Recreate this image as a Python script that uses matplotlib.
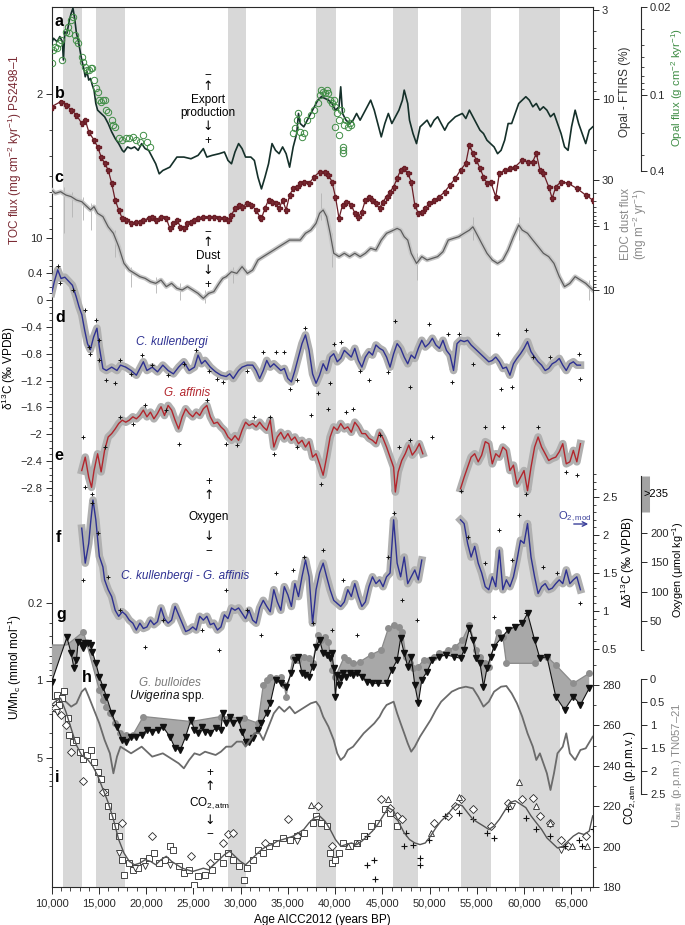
import numpy as np
import matplotlib
matplotlib.use('Agg')
import matplotlib.pyplot as plt
from matplotlib.ticker import FixedLocator, NullFormatter, FuncFormatter
from matplotlib.transforms import blended_transform_factory
from matplotlib.patches import FancyArrowPatch

plt.rcParams['font.family'] = ['Liberation Sans', 'DejaVu Sans']
plt.rcParams['mathtext.fontset'] = 'custom'
plt.rcParams['mathtext.rm'] = 'Liberation Sans'
plt.rcParams['mathtext.it'] = 'Liberation Sans:italic'
plt.rcParams['mathtext.default'] = 'regular'

# ------------------------------------------------------------------ data
band_start = [11180, 14700, 28620, 38030, 46150, 53280, 59430]
band_end = [13250, 17810, 30620, 40120, 48790, 56460, 63850]

# a: Opal - FTIRS (%)
opal_ftirs = [(10000,4.72),(10200,4.40),(10580,4.61),(10870,4.30),(11140,4.61),(11250,5.91),(11400,4.03),(11620,4.12),
 (11880,3.44),(12070,3.14),(12260,2.93),(12440,3.36),(12630,4.12),(12810,4.50),(13000,5.16),(13190,5.91),(13370,6.47),
 (13560,7.41),(13750,6.92),(13930,7.75),(14120,7.58),(14310,8.30),(14490,8.88),(14680,10.64),(14870,11.65),(15240,12.18),
 (15610,12.74),(15990,13.96),(16360,15.63),(16730,17.11),(17100,18.32),(17480,20.07),(17660,20.53),(18040,19.17),(18410,19.61),
 (18780,19.17),(19160,20.07),(19530,18.32),(19900,19.61),(20270,20.07),(20650,21.99),(21020,24.09),(21390,27.60),(21770,26.37),
 (22510,25.21),(23260,21.99),(24000,21.99),(24750,22.50),(25500,21.49),(26060,19.61),(26430,21.99),(26990,21.49),(27730,21.01),
 (28290,20.53),(28670,23.02),(29040,24.09),(29410,20.53),(29790,18.32),(30160,19.61),(30530,21.99),(31090,21.99),(31460,23.02),
 (31840,28.88),(32210,33.84),(32580,28.88),(32960,24.09),(33330,18.32),(33700,20.07),(34080,21.01),(34450,19.17),(34820,21.01),
 (35190,25.21),(35570,19.17),(35940,15.99),(36130,12.18),(36310,13.96),(36690,14.60),(37060,13.34),(37430,12.18),(37810,11.13),
 (38180,10.17),(38550,9.71),(38920,9.94),(39300,10.17),(39670,10.64),(40040,11.65),(40420,11.13),(40600,8.49),(40790,12.18),
 (41160,13.34),(41540,13.96),(41910,13.34),(42280,12.18),(42650,13.34),(43030,12.18),(43400,11.13),(43770,10.17),(44150,11.65),
 (44520,13.96),(44890,16.73),(45270,13.96),(45640,12.18),(46010,13.96),(46760,11.65),(47130,10.17),(47320,8.88),(47690,10.64),
 (47880,13.34),(48250,15.99),(48620,18.32),(49000,14.60),(49370,13.96),(49740,13.34),(50110,14.60),(50490,13.34),(50860,12.74),
 (51230,13.96),(51610,15.28),(51980,13.96),(52350,13.34),(52730,12.74),(53100,12.46),(53470,12.18),(53840,13.04),(54220,11.65),
 (54590,12.74),(54960,13.96),(55340,15.28),(55710,15.99),(56080,17.51),(56460,18.32),(56830,19.17),(57200,21.01),(57570,20.07),
 (57950,17.51),(58320,13.96),(58690,13.96),(59070,12.18),(59440,10.64),(59810,10.17),(60190,9.71),(60560,10.17),(60930,11.13),
 (61300,10.64),(61680,11.65),(62050,11.13),(62420,11.65),(62800,12.74),(63170,12.18),(63540,13.96),(63920,15.99),(64290,19.17),
 (64660,20.07),(65030,14.60),(65410,11.65),(65780,13.96),(66150,15.99),(66530,18.32),(66900,15.28),(67270,14.60)]

# a: Opal flux (g cm-2 kyr-1)
opal_flux = [(10000,0.0553),(10200,0.0439),(10390,0.0413),(10580,0.0426),(10760,0.0388),(10950,0.0366),(11140,0.0527),
 (11510,0.0314),(11700,0.0286),(11880,0.0324),(12070,0.0254),(12250,0.0238),(12440,0.0334),(12630,0.0366),(12810,0.0388),
 (13190,0.0496),(13370,0.0543),(13560,0.0595),(13750,0.0632),(13930,0.0632),(14120,0.0613),(14310,0.0613),(14490,0.0759),
 (14680,0.0884),(14870,0.0940),(15050,0.1094),(15240,0.1128),(15430,0.1094),(15610,0.1094),(15800,0.1313),(15990,0.1354),
 (16360,0.1577),(16540,0.1729),(16730,0.1782),(17100,0.2203),(17480,0.2272),(17850,0.2203),(18220,0.2203),(18600,0.2137),
 (18970,0.2272),(19340,0.2343),(19710,0.2074),(20090,0.2343),(20460,0.2566),
 (35570,0.2012),(35750,0.1837),(35940,0.1577),(36130,0.1396),(36310,0.1952),(36500,0.2137),(36690,0.2012),(37060,0.1577),
 (37430,0.1439),(37810,0.1313),(38180,0.1163),(38360,0.0999),(38550,0.0912),(38740,0.0940),(38920,0.0968),(39110,0.0912),
 (39300,0.0968),(39480,0.1094),(39670,0.1163),(39860,0.1094),(40040,0.1236),(40230,0.1396),(40420,0.1577),(40600,0.1313),
 (40790,0.2566),(40790,0.2727),(40790,0.2898),(40980,0.1729),(41160,0.1577),(41350,0.1782),(41540,0.1675),(41720,0.1729),
 (40420,0.2074),(40040,0.1782)]

# b: TOC flux (mg cm-2 kyr-1)
toc_flux = [(10030,2.30),(10950,2.18),(11510,2.26),(12070,2.39),(12630,2.53),(13190,2.78),(13560,2.67),(13930,3.05),
 (14490,3.35),(14870,3.61),(15240,4.03),(15610,4.34),(15990,4.68),(16360,5.43),(16730,6.54),(17100,7.31),(17480,8.03),
 (17850,8.18),(18410,8.49),(18970,8.34),(19340,8.34),(19710,8.18),(20270,8.03),(20650,7.88),(21020,8.18),(21580,7.88),
 (22140,8.03),(22510,8.98),(22890,8.49),(23260,8.18),(23630,8.81),(24000,8.98),(24380,8.49),(24750,8.34),(25120,8.18),
 (25500,8.03),(26060,7.88),(26620,7.88),(27170,7.88),(27730,8.03),(28290,8.03),(28670,8.18),(29040,7.74),(29410,7.18),
 (29790,6.91),(30160,7.05),(30720,6.79),(31090,6.91),(31650,7.31),(32020,7.88),(32210,8.03),(32580,7.18),(32960,6.54),
 (33330,6.66),(33700,6.79),(34080,7.18),(34450,6.54),(34820,7.31),(35190,6.19),(35570,5.74),(35940,5.64),(36310,5.43),
 (36690,5.33),(37250,5.43),(37810,5.04),(38360,4.77),(38920,4.77),(39300,4.94),(39670,5.33),(40040,6.30),(40420,8.03),
 (40790,6.91),(41160,6.66),(41720,6.91),(42090,7.59),(42470,7.88),(42840,7.45),(43210,6.54),(43590,6.30),(43960,6.54),
 (44330,6.79),(44710,7.18),(45080,6.66),(45450,6.30),(45820,5.96),(46200,5.64),(46570,5.13),(46940,4.68),(47320,4.59),
 (47690,4.85),(48060,5.33),(48440,6.91),(48810,7.59),(49180,7.45),(49550,7.18),(49930,6.79),(50490,6.54),(51050,6.30),
 (51610,5.96),(52170,5.53),(52730,5.13),(53280,4.68),(53840,4.34),(54220,3.54),(54590,3.88),(54960,4.18),(55340,4.59),
 (55710,5.04),(56080,5.43),(56460,5.33),(57010,6.30),(57390,4.85),(57950,4.68),(58510,4.59),(59070,4.51),(59810,4.18),
 (60370,4.26),(60930,4.26),(61300,3.88),(61680,4.68),(62050,4.85),(62610,5.64),(62980,6.42),(63360,5.64),(63920,5.33),
 (64660,5.43),(65590,5.74),(66530,6.19),(67270,6.54)]

# c: EDC dust flux (mg m-2 yr-1), smoothed
dust_flux = [(10000,0.274),(10390,0.309),(10950,0.291),(11510,0.328),(12070,0.348),(12630,0.393),(13190,0.417),(13560,0.470),
 (14120,0.562),(14490,0.499),(14870,0.634),(15430,0.714),(15990,1.03),(16540,1.30),(17100,2.10),(17660,3.84),(18220,4.88),
 (18780,5.50),(19340,6.19),(19900,6.58),(20460,7.41),(21020,7.87),(21580,6.98),(22140,8.87),(22700,7.87),(23260,9.42),
 (23820,10.0),(24380,8.87),(24940,10.0),(25500,11.3),(26060,13.5),(26620,11.3),(27170,10.6),(27730,7.87),(28110,6.58),
 (28480,6.19),(29040,5.18),(29600,5.50),(30160,4.32),(30720,5.50),(31280,4.88),(31840,3.40),(32400,3.01),(32960,2.67),
 (33520,2.37),(34080,2.10),(34630,1.87),(35190,1.66),(35750,1.66),(36310,1.66),(36870,1.30),(37430,1.16),(37990,0.910),
 (38360,0.634),(38740,0.562),(39110,0.714),(39480,1.30),(39860,2.67),(40420,3.01),(40980,2.67),(41540,3.01),(42090,2.67),
 (42650,3.01),(43210,2.67),(43770,2.23),(44330,2.37),(44890,1.66),(45450,1.30),(45820,1.23),(46200,1.16),(46570,1.09),
 (46940,1.16),(47320,1.47),(47690,1.66),(48060,2.67),(48620,3.84),(49180,3.01),(49740,3.40),(50300,3.20),(50860,3.01),
 (51420,2.52),(51980,1.66),(52540,1.56),(53100,1.47),(53660,1.30),(54220,1.16),(54590,1.03),(54960,1.30),(55520,1.87),
 (56080,2.67),(56640,3.40),(57200,3.84),(57760,3.40),(58320,2.37),(58880,1.47),(59440,0.966),(59810,1.16),(60370,1.30),
 (60930,1.66),(61490,2.10),(62050,2.67),(62610,3.01),(63170,3.84),(63730,6.19),(64290,8.87),(64850,7.87),(65410,6.19),
 (65970,6.98),(66530,7.87),(67270,10.0)]
# c: largest single-sample excursions of the raw dust record
dust_spike_age = [11320, 12140, 13370, 14120, 16730, 18410, 21020, 23630, 26240, 29230, 38550, 39670, 48620, 54590, 59440, 66900]
dust_spike_lo = [0.243, 0.291, 0.348, 0.443, 1.16, 4.32, 6.19, 7.87, 10.0, 4.32, 0.309, 1.30, 2.67, 0.714, 0.714, 6.98]
dust_spike_hi = [1.30, 0.714, 0.806, 1.16, 3.01, 8.87, 11.3, 14.3, 16.2, 7.87, 0.806, 4.32, 6.98, 1.66, 1.66, 14.3]

# d: C. kullenbergi d13C
d13c_kull = [(10000,0.10),(10300,0.28),(10650,0.45),(11000,0.32),(11400,0.34),(11800,0.28),(12200,0.22),(12600,0.05),
 (12900,-0.10),(13200,-0.22),(13500,-0.45),(13800,-0.65),(14100,-0.74),(14450,-0.55),(14800,-0.42),(15050,-0.70),
 (15430,-1.02),(15800,-1.05),(16360,-1.00),(16920,-1.05),(17290,-0.97),(17850,-1.00),(18410,-1.05),(18970,-1.12),
 (19340,-1.02),(19710,-0.92),(20090,-1.05),(20650,-1.00),(21210,-1.07),(21770,-0.97),(22330,-1.05),(22890,-1.10),
 (23440,-1.00),(24000,-0.92),(24560,-1.05),(25120,-1.00),(25500,-0.82),(25870,-0.95),(26240,-0.90),(26800,-1.00),
 (27360,-1.07),(27920,-1.12),(28480,-1.14),(28850,-1.10),(29230,-1.17),(29790,-1.05),(30160,-1.00),(30720,-0.97),
 (31280,-0.97),(31650,-1.05),(32020,-1.17),(32400,-1.05),(32770,-0.90),(33140,-1.00),(33520,-0.95),(33890,-1.00),
 (34260,-1.05),(34630,-1.02),(35010,-1.17),(35380,-1.22),(35750,-1.05),(36130,-0.85),(36500,-0.65),(36870,-0.52),
 (37250,-0.75),(37620,-1.10),(37990,-1.24),(38360,-1.12),(38740,-0.95),(39110,-1.05),(39480,-0.85),(39860,-0.80),
 (40230,-0.92),(40600,-0.87),(40980,-0.75),(41350,-0.80),(41720,-0.85),(42090,-0.72),(42470,-0.90),(42840,-1.00),
 (43210,-0.85),(43590,-0.77),(43960,-0.82),(44330,-0.67),(44710,-0.72),(45080,-0.75),(45450,-0.85),(45820,-1.00),
 (46200,-0.80),(46570,-0.65),(46940,-0.72),(47320,-0.85),(47690,-0.95),(48060,-0.82),(48440,-0.87),(48810,-0.72),
 (49180,-0.60),(49550,-0.70),(49930,-0.65),(50300,-0.57),(50670,-0.67),(51050,-0.72),(51420,-0.60),(51790,-0.75),
 (52170,-0.82),(52540,-1.05),(52910,-0.65),(53280,-0.60),(53660,-0.62),(54030,-0.60),(54400,-0.67),(54780,-0.72),
 (55150,-0.77),(55520,-0.82),(55900,-0.87),(56270,-0.92),(56640,-0.90),(57010,-0.85),(57390,-0.92),(57760,-1.02),
 (58130,-1.00),(58510,-1.12),(58880,-0.95),(59250,-0.87),(59630,-0.80),(60000,-0.72),(60370,-0.62),(60740,-0.77),
 (61120,-0.85),(61490,-0.92),(61860,-0.97),(62240,-1.05),(62610,-1.02),(62980,-0.95),(63360,-0.92),(63730,-0.87),
 (64100,-0.97),(64470,-1.05),(64850,-0.95),(65220,-0.92),(65590,-0.97),(65970,-0.97)]
d13c_kull_samples = [(10700,0.50),(10900,0.25),(12300,0.15),(13500,-0.15),(14100,-0.80),(14700,-0.30),(15000,-0.60),
 (13930,-0.70),(15050,-0.90),(15800,-1.19),(16730,-1.24),(17290,-0.90),(18410,-1.10),(19530,-0.82),(20650,-0.97),
 (22330,-1.12),(24000,-0.95),(25310,-0.75),(26620,-1.05),(27550,-1.17),(28110,-1.22),(30720,-1.05),(32400,-0.77),
 (33700,-0.77),(34630,-0.77),(35190,-1.32),(35940,-1.19),(36870,-0.42),(38180,-1.39),(39480,-1.24),(39860,-0.65),
 (40600,-0.62),(42650,-1.05),(43590,-1.19),(45640,-1.07),(46380,-0.32),(47880,-1.29),(49930,-0.35),(51980,-0.50),
 (52350,-1.22),(53100,-0.50),(54590,-0.95),(57200,-0.50),(57570,-1.32),(58690,-1.29),(60190,-0.45),(60930,-0.85),
 (62800,-0.85),(65780,-0.80),(65970,-1.17)]

# e: G. affinis d13C (two core sections)
d13c_aff_1 = [(13190,-2.54),(13560,-2.34),(13930,-2.64),(14230,-2.79),(14490,-2.54),(14870,-2.29),(15240,-2.56),(15610,-2.24),
 (15990,-2.04),(16360,-1.99),(16730,-1.92),(17100,-1.84),(17480,-1.79),(17850,-1.82),(18220,-1.79),(18600,-1.74),(18970,-1.77),
 (19340,-1.72),(19710,-1.64),(20090,-1.74),(20460,-1.67),(20830,-1.77),(21210,-1.69),(21580,-1.59),(21950,-1.72),(22330,-1.57),
 (22700,-1.64),(23070,-1.79),(23440,-1.92),(23820,-1.74),(24190,-1.62),(24560,-1.69),(24940,-1.74),(25310,-1.67),(25680,-1.72),
 (26060,-1.62),(26430,-1.57),(26800,-1.74),(27170,-1.84),(27550,-1.82),(27920,-1.89),(28290,-1.94),(28670,-2.04),(29040,-2.09),
 (29410,-2.02),(29790,-2.09),(30160,-1.94),(30530,-1.82),(30900,-1.87),(31280,-1.84),(31650,-1.89),(32020,-1.82),(32400,-1.89),
 (32770,-1.94),(33140,-1.79),(33520,-2.19),(33890,-2.04),(34260,-1.97),(34630,-2.07),(35010,-1.99),(35380,-2.09),(35750,-2.04),
 (36130,-2.14),(36500,-2.09),(36870,-2.19),(37250,-2.11),(37620,-2.34),(37990,-2.29),(38360,-2.44),(38740,-2.61),(39110,-2.34),
 (39480,-2.04),(39860,-1.89),(40230,-1.94),(40600,-1.84),(40980,-1.92),(41350,-1.89),(41720,-1.97),(42090,-1.82),(42470,-1.89),
 (42840,-1.99),(43210,-1.99),(43590,-2.06),(43960,-2.09),(44330,-2.14),(44710,-1.97),(45080,-2.06),(45450,-2.19),(45820,-2.34),
 (46200,-2.49),(46380,-2.86),(46680,-2.56),(47060,-2.39),(47430,-2.29),(47800,-2.16),(48170,-2.31),(48550,-2.24),(48920,-2.14),
 (49290,-2.29)]
d13c_aff_2 = [(53280,-2.81),(53660,-2.64),(54030,-2.49),(54400,-2.34),(54780,-2.29),(55150,-2.41),(55520,-2.31),(55900,-2.11),
 (56270,-2.14),(56640,-2.44),(57010,-2.29),(57390,-2.34),(57760,-2.19),(58130,-2.24),(58510,-2.54),(58880,-2.46),(59250,-2.74),
 (59630,-2.64),(60000,-2.54),(60370,-2.84),(60740,-2.49),(61120,-2.19),(61490,-2.04),(61860,-2.19),(62240,-2.29),(62610,-2.39),
 (62980,-2.36),(63360,-2.34),(63730,-2.26),(64100,-2.14),(64470,-2.44),(64850,-2.41),(65220,-2.24),(65590,-2.41),(65970,-2.14)]
d13c_aff_samples = [(13370,-2.04),(13560,-2.79),(14230,-2.89),(15610,-2.19),(17290,-1.74),(18600,-1.84),(19900,-1.57),
 (22140,-1.64),(23440,-2.14),(26430,-1.49),(28480,-2.14),(29600,-2.16),(31460,-1.74),(33140,-1.74),(33520,-2.29),
 (35940,-2.19),(37430,-1.72),(38550,-2.74),(39300,-1.62),(41160,-1.67),(41910,-1.62),(44710,-2.01),(46760,-2.19),
 (47880,-2.09),(50300,-2.04),(53280,-2.84),(55900,-1.89),(57760,-1.89),(60190,-2.89),(61490,-1.89),(64470,-2.56),
 (65590,-2.61)]

# f: C. kullenbergi - G. affinis (Dd13C)
dd13c_1 = [(13190,2.09),(13560,1.63),(13930,1.89),(14120,2.15),(14380,2.46),(14680,2.20),(15050,1.72),(15430,1.58),(15610,1.41),
 (15990,1.28),(16360,1.19),(16730,1.01),(17100,0.93),(17480,0.99),(17850,0.95),(18220,0.88),(18600,0.84),(18970,0.75),
 (19340,0.84),(19710,0.77),(20090,0.79),(20460,0.88),(20830,0.82),(21210,0.86),(21580,1.04),(21950,0.90),(22330,0.84),
 (22700,0.88),(23070,1.06),(23440,0.95),(23820,0.84),(24190,0.73),(24560,0.75),(24940,0.79),(25310,0.75),(25680,0.93),
 (26060,0.88),(26430,0.93),(26800,0.82),(27170,0.84),(27550,0.75),(27920,0.79),(28290,0.95),(28670,0.90),(29040,1.04),
 (29410,1.01),(29790,1.04),(30160,0.97),(30530,0.90),(30900,1.01),(31280,0.88),(31650,0.84),(32020,1.04),(32400,1.14),
 (32770,1.06),(33140,0.99),(33520,1.28),(33890,1.12),(34260,1.01),(34630,1.32),(35010,1.21),(35380,1.06),(35750,1.36),
 (36130,1.19),(36500,1.45),(36870,1.67),(37250,1.45),(37620,0.84),(37990,1.28),(38360,1.50),(38740,1.63),(39110,1.45),
 (39480,1.28),(39860,1.14),(40230,1.10),(40600,1.06),(40980,1.12),(41350,1.28),(41720,1.19),(42090,1.36),(42470,1.19),
 (42840,1.06),(43210,1.12),(43590,1.32),(43960,1.45),(44330,1.36),(44710,1.41),(45080,1.32),(45450,1.45),(45820,1.50),
 (46200,2.20),(46570,1.63),(46940,1.45),(47320,1.71),(47690,1.36),(48060,1.45),(48440,1.54),(48810,1.41),(49180,1.67)]
dd13c_2 = [(53280,2.20),(53660,2.15),(54030,1.89),(54400,1.71),(54780,1.85),(55150,1.63),(55520,1.50),(55900,1.32),(56270,1.28),
 (56640,1.45),(57010,1.32),(57390,1.80),(57760,1.28),(58130,1.41),(58510,1.32),(58880,1.45),(59250,1.67),(59630,1.93),
 (60000,1.89),(60370,2.15),(60740,1.71),(61120,1.45),(61490,1.23),(61860,1.32),(62240,1.36),(62610,1.28),(62980,1.30),
 (63360,1.36),(63730,1.41),(64100,1.36),(64470,1.54),(64850,1.36),(65220,1.41),(65590,1.45),(65970,1.28)]
dd13c_samples = [(13370,1.41),(14310,2.42),(14870,2.02),(15990,1.45),(17290,1.01),(19900,0.53),(21770,0.88),(25870,0.75),
 (27730,0.49),(28480,1.28),(30720,1.01),(32210,0.69),(33700,1.50),(35570,1.54),(36690,1.71),(37620,0.84),(38740,1.80),
 (39670,0.75),(40790,1.41),(42280,0.69),(45640,1.71),(46200,2.29),(47130,1.14),(48620,0.88),(54030,1.98),(55900,1.63),
 (56830,0.92),(57390,2.07),(58690,1.67),(59440,2.26),(60190,0.97),(62050,1.58),(63540,1.50),(65970,1.10)]

# g: U/Mnc (mmol mol-1)
umn_bulloides = [(10000,0.478),(11620,0.478),(13370,0.363),(15050,1.216),(15430,1.495),(15800,1.716),(16170,1.971),
 (16730,2.425),(17290,2.990),(17850,3.095),(18600,3.095),(19710,2.112),(24750,2.343),(27920,2.112),(30350,2.186),
 (31840,2.425),(32400,1.096),(32770,0.988),(33140,0.922),(33700,0.955),(34260,0.922),(34630,1.096),(34820,1.396),
 (35570,0.609),(36130,0.653),(36690,0.609),(37250,0.631),(37620,0.700),(38180,0.388),(38550,0.431),(38920,0.402),
 (39300,0.446),(39670,0.803),(40040,0.922),(40980,0.609),(41350,0.653),(41910,0.700),(42650,0.676),(43770,0.588),
 (44890,0.530),(45640,0.338),(46200,0.316),(46760,0.327),(47130,0.363),(47500,0.609),(47880,0.700),(48250,0.776),
 (48810,0.749),(49370,0.653),(49930,0.653),(50490,0.609),(51050,0.568),(51980,0.530),(52730,0.495),(53470,0.431),
 (54220,0.316),(54960,0.530),(55340,0.609),(55900,0.700),(56270,0.749),(57200,0.363),(57760,0.402),(58130,0.700),
 (61120,0.700),(62420,0.609),(63360,0.724),(65220,1.059),(66900,0.861)]
umn_uvigerina = [(10020,1.023),(11620,0.408),(12070,0.568),(12370,0.776),(12630,0.653),(12810,0.446),(13190,0.478),
 (13370,0.512),(13560,0.462),(13860,0.455),(14120,0.478),(14310,0.549),(14680,0.700),(15050,0.922),(15430,1.135),
 (15800,1.396),(16360,1.971),(16920,2.604),(17480,3.432),(17850,3.553),(18410,3.203),(18970,3.203),(19530,3.095),
 (20090,2.790),(20650,2.888),(21210,2.790),(21770,2.604),(22510,3.203),(23070,4.08),(23630,4.22),(24190,3.203),
 (24750,2.263),(25120,2.790),(25500,2.990),(25870,2.604),(26240,2.888),(26800,2.990),(27360,2.695),(27920,2.790),
 (28110,1.971),(28480,2.425),(28850,2.112),(29230,2.425),(29790,2.263),(30160,2.888),(30530,3.553),(30900,3.553),
 (31280,3.316),(31840,2.790),(32210,2.425),(32770,1.971),(33140,1.602),(33700,0.988),(34260,1.059),(34820,1.135),
 (35380,0.861),(35750,0.653),(36130,0.609),(36500,0.861),(36870,0.891),(37250,0.922),(37620,0.749),(37990,0.495),
 (38360,0.431),(38740,0.568),(39110,0.588),(39480,0.631),(39670,0.568),(39860,0.776),(40040,1.396),(40230,0.891),
 (40420,1.096),(40600,0.955),(40790,0.861),(41160,0.922),(41540,0.861),(41910,0.891),(42280,0.861),(42840,0.922),
 (43400,1.023),(43960,1.059),(44520,1.059),(45450,1.059),(46010,0.803),(46570,0.653),(46940,0.416),(47320,0.568),
 (47690,0.749),(48060,0.609),(48440,1.096),(48810,1.602),(49180,0.988),(49740,0.831),(50300,0.653),(51050,0.609),
 (51790,0.588),(52540,0.609),(53280,0.631),(53660,0.530),(54220,0.338),(54590,0.431),(54960,0.631),(55340,0.700),
 (55710,1.135),(56080,0.776),(56460,0.609),(56830,0.495),(57570,0.416),(58320,0.350),(59070,0.327),(59810,0.305),
 (60370,0.248),(61120,0.431),(61680,0.631),(62420,0.609),(63360,1.396),(64290,1.839),(65220,1.396),(65970,1.658),
 (66900,1.175)]

# h: U_authi (p.p.m.) TN057-21
u_authi = [(10000,0.746),(10390,0.601),(10950,0.456),(11510,0.493),(12070,0.601),(12630,0.529),(13190,0.275),(13560,0.203),
 (13930,0.384),(14490,0.674),(15050,0.964),(15610,1.326),(16170,1.616),(16540,2.050),(16920,1.688),(17290,1.471),(17850,1.543),
 (18410,1.616),(18970,1.543),(19530,1.471),(20090,1.580),(20650,1.688),(21210,1.652),(21770,1.616),(22330,1.688),(22890,1.761),
 (23440,1.833),(24000,1.942),(24560,1.761),(25120,1.616),(25680,1.652),(26240,1.580),(26800,1.616),(27360,1.652),(27920,1.580),
 (28480,1.471),(29040,1.471),(29600,1.362),(30160,1.362),(30530,1.471),(30900,1.362),(31460,1.181),(32020,1.181),(32400,1.326),
 (32960,1.036),(33520,0.746),(34080,0.601),(34630,0.710),(35190,0.601),(35750,0.746),(36310,0.674),(36870,0.601),(37430,0.529),
 (37990,0.493),(38360,0.601),(38740,0.819),(39300,1.036),(39860,1.326),(40230,1.616),(40600,1.761),(40980,1.688),(41350,1.543),
 (41910,1.471),(42470,1.326),(43030,1.181),(43590,1.072),(44150,0.964),(44710,0.819),(45080,0.674),(45450,0.565),(45820,0.529),
 (46200,0.493),(46570,0.746),(46940,0.964),(47320,1.181),(47690,1.398),(48060,1.580),(48440,1.471),(48990,1.253),(49550,1.072),
 (50110,0.891),(50670,0.674),(51230,0.493),(51790,0.384),(52350,0.275),(53100,0.203),(53840,0.167),(54590,0.203),(55150,0.384),
 (55710,0.601),(56270,0.493),(56830,0.275),(57570,0.167),(58130,0.152),(58690,0.312),(59250,0.529),(59810,0.819),(60370,1.181),
 (60930,1.471),(61300,1.761),(61680,1.616),(62050,1.833),(62420,2.050),(62800,2.413),(63170,2.050),(63540,1.616),(64100,1.471),
 (64470,1.181),(64850,1.616),(65410,1.761),(65970,1.543),(66530,1.507),(67270,1.253)]

# i: atmospheric CO2 (p.p.m.v.): spline and ice-core samples
co2_spline = [(10000,270.2),(10390,271.8),(10950,273.5),(11510,266.8),(12070,258.5),(12630,250.2),(13190,245.2),(13750,243.5),
 (14310,240.2),(14870,235.2),(15430,228.5),(15990,221.8),(16540,213.5),(17100,203.5),(17660,196.8),(18220,192.7),(18780,191.0),
 (19340,191.8),(19900,193.5),(20460,192.7),(21020,191.0),(21580,193.5),(22140,195.2),(22700,192.7),(23260,191.0),(23820,189.3),
 (24380,188.5),(24940,187.7),(25500,188.5),(26060,189.3),(26620,188.5),(27170,191.0),(27730,193.5),(28290,196.0),(28850,197.7),
 (29410,195.2),(29970,192.7),(30530,191.0),(31090,193.5),(31650,196.0),(32210,198.5),(32770,200.2),(33330,201.0),(33890,202.7),
 (34450,203.5),(35010,204.3),(35570,205.2),(36130,206.8),(36690,208.5),(37250,211.8),(37810,214.3),(38360,215.2),(38920,212.7),
 (39480,208.5),(40040,203.5),(40600,200.2),(41160,201.0),(41720,201.8),(42280,201.0),(42840,202.7),(43400,205.2),(43960,207.7),
 (44520,211.0),(45080,215.2),(45640,219.3),(46200,217.7),(46760,211.8),(47320,206.8),(47880,203.5),(48440,201.8),(48990,201.0),
 (49550,201.8),(50110,205.2),(50670,209.3),(51230,212.7),(51790,215.2),(52350,218.5),(52910,221.0),(53470,220.2),(54030,216.8),
 (54590,213.5),(55150,211.8),(55710,210.2),(56270,208.5),(56830,210.2),(57390,213.5),(57950,217.7),(58510,221.8),(59070,222.7),
 (59630,221.0),(60190,219.3),(60740,215.2),(61300,211.8),(61860,208.5),(62420,204.3),(62980,201.8),(63540,199.3),(64100,200.2),
 (64660,202.7),(65220,205.2),(65780,206.8),(66340,206.0),(66900,207.7),(67270,215.2)]
co2_squares = [(10000,268.5),(10200,271.8),(10580,275.2),(10760,270.2),(11140,273.5),(11320,276.8),(11700,263.5),(11880,255.2),
 (12250,251.8),(12630,252.7),(13000,246.8),(13370,243.5),(13750,245.2),(14120,247.7),(14490,241.8),(14870,236.8),(15240,233.5),
 (15610,226.8),(15990,220.2),(16360,215.2),(16730,210.2),(17100,205.2),(17480,193.5),(17660,186.0),(18220,191.8),(18600,188.5),
 (19160,189.3),(19710,192.7),(20270,194.3),(20830,196.8),(21390,191.8),(21950,193.5),(22510,200.2),(22890,198.5),(23440,190.2),
 (24000,186.8),(24560,188.5),(25120,181.0),(25500,185.2),(26240,186.0),(26990,188.5),(27550,195.2),(28110,191.8),(28670,196.8),
 (29230,193.5),(29790,190.2),(30350,183.5),(30720,189.3),(31280,193.5),(31840,198.5),(32400,196.8),(32960,200.2),(33700,201.8),
 (34450,204.3),(35190,203.5),(35940,205.2),(36690,206.8),(37620,211.8),(37990,215.2),(38550,211.8),(39110,210.2),(39480,196.8),
 (39670,191.8),(40040,193.5),(40420,196.8),(40790,201.8),(41540,200.2),(42280,201.8),(43030,205.2),(43770,210.2),(44520,211.8),
 (45270,218.5),(45820,216.8),(46570,210.2)]
co2_diamonds = [(10390,268.5),(10950,265.2),(11510,260.2),(12070,246.8),(13370,232.7),(15430,226.8),(17480,211.8),(20650,205.2),
 (24750,195.2),(26800,191.8),(28110,201.8),(28670,206.0),(29230,206.8),(32580,201.8),(35010,213.5),(35940,205.2),(38180,220.2),
 (39670,200.2),(44890,223.5),(45820,219.3),(46570,215.2),(47130,213.5),(50490,211.8),(51980,215.2),(52730,220.2),(53280,223.5),
 (54590,218.5),(56460,210.2),(58320,221.8),(59810,223.5),(60930,224.3),(61680,215.2),(62800,211.8),(63920,203.5),(64660,200.2),
 (66530,205.2)]
co2_triangles_up = [(37430,220.5),(45640,223.5),(53100,224.8),(59440,232.2),(61300,220.2),(62800,211.8),(65030,200.2),
 (66710,200.2),(50110,206.8),(41350,200.2),(42280,201.8)]
co2_triangles_down = [(10580,266.8),(17100,196.8),(18780,189.3),(19900,190.2),(22510,191.0),(35940,202.7),(58690,220.2),
 (63920,198.5)]
co2_plus = [(43400,205.2),(44150,193.5),(47320,200.2),(48990,194.3),(51610,215.2),(53100,216.8),(54590,213.5),(56080,206.8),
 (56830,204.3),(58320,218.5),(60190,214.3),(61300,208.5),(62800,205.2),(64290,200.2),(65780,203.5),(66150,200.2),(67270,208.5),
 (47500,206.8),(48250,201.0),(49930,203.5),(44200,184.0),(43400,191.0),(48950,191.0)]

# ------------------------------------------------------------------ layout
W, H = 685, 925
X0, X1, Y0, Y1 = 51.6, 593.0, 7.0, 887.0
fig = plt.figure(figsize=(W / 100, H / 100), dpi=100)
rect = [X0 / W, 1 - Y1 / H, (X1 - X0) / W, (Y1 - Y0) / H]
OFF = (641.0 - X0) / (X1 - X0)
INK = '#2a2a2a'


def xy(col):
    a = np.array(col, dtype=float)
    return a[:, 0], a[:, 1]


def lims(v1, p1, v2, p2, log=False):
    f = np.log10 if log else (lambda v: v)
    g = (lambda u: 10 ** u) if log else (lambda u: u)
    a1, a2 = f(v1), f(v2)
    s = (a2 - a1) / (p2 - p1)
    return g(a1 + (Y1 - p1) * s), g(a1 + (Y0 - p1) * s)


def fmt(v, p=None):
    s = ('%g' % round(v, 4))
    return s.replace('-', '\u2212')


base = fig.add_axes(rect)
base.set_xlim(10000, 67300)
base.set_ylim(0, 1)
base.set_yticks([])
for s in base.spines.values():
    s.set_color(INK)
    s.set_linewidth(0.8)
base.xaxis.set_major_locator(FixedLocator(np.arange(10000, 65001, 5000)))
base.xaxis.set_minor_locator(FixedLocator(np.arange(10000, 67001, 1000)))
base.xaxis.set_major_formatter(FuncFormatter(lambda v, p: '{:,}'.format(int(v))))
base.tick_params(axis='x', which='major', length=5, width=0.7, labelsize=8, colors=INK)
base.tick_params(axis='x', which='minor', length=3, width=0.6, colors=INK)
base.set_xlabel('Age AICC2012 (years BP)', fontsize=8.5, labelpad=4)
for s0, s1 in zip(band_start, band_end):
    base.axvspan(s0, s1, color='#d8d8d8', lw=0, zorder=0)


def overlay(side, lim, log=False, offset=None, major=None, minor=None, bounds=None, labcolor=INK):
    a = fig.add_axes(rect, sharex=base)
    a.patch.set_visible(False)
    for s in a.spines.values():
        s.set_visible(False)
    if log:
        a.set_yscale('log')
    a.set_ylim(*lim)
    a.xaxis.set_visible(False)
    if side == 'right':
        a.yaxis.tick_right()
    else:
        a.yaxis.tick_left()
    if offset is not None:
        sp = a.spines['right']
        sp.set_position(('axes', offset))
        sp.set_visible(True)
        sp.set_color(INK)
        sp.set_linewidth(0.8)
        if bounds is not None:
            sp.set_bounds(*bounds)
    a.yaxis.set_major_locator(FixedLocator(major if major is not None else []))
    a.yaxis.set_minor_locator(FixedLocator(minor if minor is not None else []))
    a.yaxis.set_major_formatter(FuncFormatter(fmt))
    a.yaxis.set_minor_formatter(NullFormatter())
    a.tick_params(axis='y', which='major', length=4, width=0.7, labelsize=8, colors=INK, labelcolor=labcolor, pad=2.5)
    a.tick_params(axis='y', which='minor', length=2.2, width=0.6, colors=INK)
    return a


# a: Opal FTIRS
ax_a = overlay('right', lims(3, 10, 30, 180, True), True, major=[3, 10, 30], minor=[4, 5, 6, 7, 8, 9, 20])
t, v = xy(opal_ftirs)
ax_a.plot(t, v, color='#15302a', lw=1.2, zorder=3)
ax_af = overlay('right', lims(0.02, 7, 0.4, 171, True), True, offset=OFF, bounds=(0.02, 0.4), major=[0.02, 0.1, 0.4],
                minor=[0.03, 0.04, 0.05, 0.06, 0.07, 0.08, 0.09, 0.2, 0.3])
t, v = xy(opal_flux)
ax_af.plot(t, v, ls='none', marker='o', ms=4.6, mfc='none', mec='#3f8d45', mew=0.7, zorder=4)

# b: TOC
ax_b = overlay('left', lims(2, 94, 10, 238, True), True, major=[2, 10], minor=[3, 4, 5, 6, 7, 8, 9])
t, v = xy(toc_flux)
ax_b.plot(t, v, color='#6a1d26', lw=0.9, marker='P', ms=3.6, mec='#6a1d26', mfc='#7a2a33', zorder=3)

# c: dust
ax_c = overlay('right', lims(1, 226, 10, 290, True), True, major=[1, 10],
               minor=[0.3, 0.4, 0.5, 0.6, 0.7, 0.8, 0.9, 2, 3, 4, 5, 6, 7, 8, 9])
t, v = xy(dust_flux)
ax_c.vlines(dust_spike_age, dust_spike_lo, dust_spike_hi, color='#b4b4b4', lw=0.6, zorder=2)
ax_c.plot(t, v, color='#c6c6c6', lw=3.2, zorder=2)
ax_c.plot(t, v, color='#5c5c5c', lw=0.9, zorder=3)

# d, e: d13C
ax_d = overlay('left', lims(0, 300, -2.8, 488), major=[0.4, 0, -0.4, -0.8, -1.2, -1.6, -2.0, -2.4, -2.8],
               minor=[round(x, 1) for x in np.arange(-3.0, 0.61, 0.1)])
for series, col in ((d13c_kull, '#2e3192'), (d13c_aff_1, '#b3262d'), (d13c_aff_2, '#b3262d')):
    t, v = xy(series)
    ax_d.plot(t, v, color='#b0b0b0', lw=5.5, solid_joinstyle='round', zorder=2)
    ax_d.plot(t, v, color=col, lw=1.0, zorder=3)
for series in (d13c_kull_samples, d13c_aff_samples):
    t, v = xy(series)
    ax_d.plot(t, v, ls='none', marker='+', ms=2.6, mew=0.7, color='#111111', zorder=4)

# f: Dd13C
ax_f = overlay('right', lims(1, 611, 2.5, 497), major=[0.5, 1, 1.5, 2, 2.5],
               minor=[round(x, 1) for x in np.arange(0.6, 2.81, 0.1)])
for series in (dd13c_1, dd13c_2):
    t, v = xy(series)
    ax_f.plot(t, v, color='#b0b0b0', lw=5.5, solid_joinstyle='round', zorder=2)
    ax_f.plot(t, v, color='#2e3192', lw=1.0, zorder=3)
t, v = xy(dd13c_samples)
ax_f.plot(t, v, ls='none', marker='+', ms=2.6, mew=0.7, color='#111111', zorder=4)

# oxygen scale
ax_o = overlay('right', lims(200, 533, 50, 621), offset=OFF, bounds=(0, 298), major=[50, 100, 150, 200], minor=[0])
trans_o = blended_transform_factory(ax_o.transAxes, ax_o.transData)
ax_o.plot([OFF + 0.0065, OFF + 0.0065], [235, 297], transform=trans_o, color='#a3a3a3', lw=6.5,
          solid_capstyle='butt', clip_on=False)

# g: U/Mn
ax_g = overlay('left', lims(0.2, 603, 5, 758, True), True, major=[0.2, 1, 5],
               minor=[0.3, 0.4, 0.5, 0.6, 0.7, 0.8, 0.9, 2, 3, 4, 6, 7, 8, 9])
tu, vu = xy(umn_uvigerina)
tb, vb = xy(umn_bulloides)
ax_g.fill(np.r_[tu, tb[::-1]], np.r_[vu, vb[::-1]], color='#a8a8a8', lw=0, zorder=2)
ax_g.plot(tb, vb, color='#8a8a8a', lw=0.9, marker='o', ms=5, mfc='#8e8e8e', mec='none',
          markevery=list(range(2, len(tb))), zorder=3)
ax_g.plot(tu, vu, color='#111111', lw=0.8, marker='v', ms=5, mfc='#111111', mec='#111111', zorder=4)

# h: U authi
ax_h = overlay('right', lims(0, 679, 2.5, 794), offset=OFF, bounds=(0, 2.5), major=[0, 0.5, 1, 1.5, 2, 2.5])
t, v = xy(u_authi)
ax_h.plot(t, v, color='#6b6b6b', lw=1.3, zorder=3)

# i: CO2
ax_i = overlay('right', lims(180, 887, 280, 685), major=list(range(180, 281, 20)), minor=list(range(190, 291, 20)))
mk = dict(ls='none', mfc='white', mec='#2a2a2a', mew=0.6, zorder=3)
t, v = xy(co2_squares)
ax_i.plot(t, v, marker='s', ms=4.3, **mk)
t, v = xy(co2_diamonds)
ax_i.plot(t, v, marker='D', ms=4.0, **mk)
t, v = xy(co2_triangles_up)
ax_i.plot(t, v, marker='^', ms=4.3, **mk)
t, v = xy(co2_triangles_down)
ax_i.plot(t, v, marker='v', ms=4.3, **mk)
t, v = xy(co2_plus)
ax_i.plot(t, v, ls='none', marker='+', ms=4.5, mew=0.8, color='#111111', zorder=4)
t, v = xy(co2_spline)
ax_i.plot(t, v, color='#555555', lw=1.0, zorder=5)


# ------------------------------------------------------------------ texts
def T(x, y, s, **kw):
    kw.setdefault('ha', 'center')
    kw.setdefault('va', 'center')
    kw.setdefault('fontsize', 8.5)
    return fig.text(x / W, 1 - y / H, s, **kw)


for letter, (lx, ly) in {'a': (59, 22), 'b': (60, 94), 'c': (59, 178), 'd': (60, 318), 'e': (59, 455),
                         'f': (58, 538), 'g': (61, 614), 'h': (87, 678), 'i': (57, 777)}.items():
    T(lx, ly, letter, fontsize=11.5, weight='bold')

arrow_font = dict(family=['DejaVu Sans'], fontsize=9)
# export production
T(208, 74, '\u2212')
T(208, 87, '\u2191', **arrow_font)
T(208, 100, 'Export')
T(208, 113, 'production')
T(208, 127, '\u2193', **arrow_font)
T(208, 141, '+')
# dust
T(208, 231, '\u2212')
T(208, 243, '\u2191', **arrow_font)
T(208, 256, 'Dust')
T(208, 270, '\u2193', **arrow_font)
T(208, 285, '+')
# oxygen
T(209, 482, '+')
T(209, 496, '\u2191', **arrow_font)
T(209, 517, 'Oxygen')
T(209, 537, '\u2193', **arrow_font)
T(209, 550, '\u2212')
# co2
T(210, 773, '+')
T(210, 787, '\u2191', **arrow_font)
T(210, 803, 'CO$_{2,atm}$')
T(210, 821, '\u2193', **arrow_font)
T(210, 833, '\u2212')

T(172, 342, 'C. kullenbergi', color='#2e3192', style='italic')
T(187, 393, 'G. affinis', color='#b3262d', style='italic')
T(185, 576, 'C. kullenbergi - G. affinis', color='#2e3192', style='italic')
T(170, 683, 'G. bulloides', color='#7a7a7a', style='italic')
T(167, 696, r'$\it{Uvigerina}$ spp.', color='#111111')

# O2,mod marker
T(575, 517, 'O$_{2,mod}$', color='#3a3f9a', fontsize=8)
fig.add_artist(FancyArrowPatch((571 / W, 1 - 524 / H), (591 / W, 1 - 524 / H), transform=fig.transFigure,
                               arrowstyle='->', mutation_scale=8, color='#3a3f9a', lw=1.0))
T(644, 494, '>235', ha='left', fontsize=8)

# axis titles
T(15, 150, 'TOC flux (mg cm$^{-2}$ kyr$^{-1}$) PS2498\u20131', rotation=90, color='#7a2a33', fontsize=8.5)
T(9, 368, '\u03b4$^{13}$C (\u2030 VPDB)', rotation=90, fontsize=8.5)
T(15, 667, 'U/Mn$_c$ (mmol mol$^{-1}$)', rotation=90, fontsize=8.5)
T(625, 92, 'Opal - FTIRS (%)', rotation=90, color='#333333', fontsize=8.5)
T(677, 88, 'Opal flux (g cm$^{-2}$ kyr$^{-1}$)', rotation=90, color='#3f8d45', fontsize=8.2)
T(626, 224, 'EDC dust flux', rotation=90, color='#8a8a8a', fontsize=8.5)
T(640, 224, '(mg m$^{-2}$ yr$^{-1}$)', rotation=90, color='#8a8a8a', fontsize=8.5)
T(628, 562, '\u0394\u03b4$^{13}$C (\u2030 VPDB)', rotation=90, fontsize=8.5)
T(678.5, 570, 'Oxygen (\u03bcmol kg$^{-1}$)', rotation=90, fontsize=7.8)
T(630, 778, 'CO$_{2,atm}$ (p.p.m.v.)', rotation=90, fontsize=8.5)
T(677, 765, 'U$_{authi}$ (p.p.m.) TN057\u201321', rotation=90, color='#8a8a8a', fontsize=8.2)

fig.savefig('out.png', dpi=100)
